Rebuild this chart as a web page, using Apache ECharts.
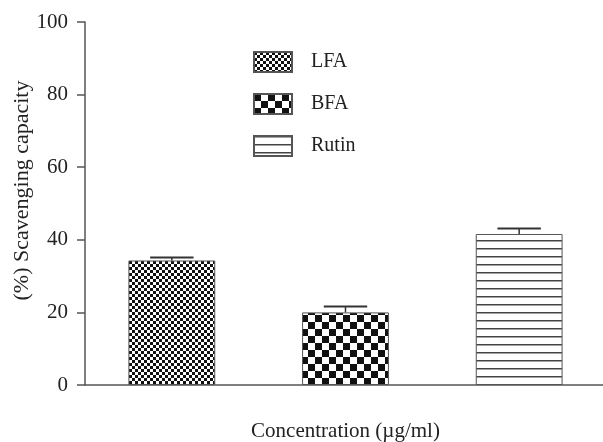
<!DOCTYPE html>
<html>
<head>
<meta charset="utf-8">
<script src="https://cdn.jsdelivr.net/npm/echarts@6/dist/echarts.min.js"></script>
<style>
  html, body { margin: 0; padding: 0; background: #fff; }
  #chart { width: 603px; height: 442px; }
</style>
</head>
<body>
<div id="chart"></div>
<script>
  var categories = ['LFA', 'BFA', 'Rutin'];
  var values = [34.3, 20.0, 41.6];
  var errors = [0.8, 1.6, 1.5];
  var yTicks = [0, 20, 40, 60, 80, 100];

  // pattern tiles
  function checker(cell) {
    var c = document.createElement('canvas');
    c.width = cell * 2; c.height = cell * 2;
    var ctx = c.getContext('2d');
    ctx.fillStyle = '#fff';
    ctx.fillRect(0, 0, c.width, c.height);
    ctx.fillStyle = '#111';
    ctx.fillRect(0, 0, cell, cell);
    ctx.fillRect(cell, cell, cell, cell);
    return c;
  }
  function hlines(gap) {
    var c = document.createElement('canvas');
    c.width = 8; c.height = gap;
    var ctx = c.getContext('2d');
    ctx.fillStyle = '#fff';
    ctx.fillRect(0, 0, c.width, c.height);
    ctx.fillStyle = '#444';
    ctx.fillRect(0, 0, c.width, 1.5);
    return c;
  }
  var patterns = [
    { image: checker(3), repeat: 'repeat' },
    { image: checker(7), repeat: 'repeat' },
    { image: hlines(8), repeat: 'repeat' }
  ];

  var chart = echarts.init(document.getElementById('chart'));
  var font = '"Liberation Serif", "Times New Roman", serif';

  var series = categories.map(function (name, i) {
    return {
      name: name,
      type: 'bar',
      barWidth: '50%',
      barGap: '-100%',
      data: categories.map(function (c, j) { return j === i ? values[i] : '-'; }),
      itemStyle: { color: patterns[i], borderColor: '#555', borderWidth: 1 },
      emphasis: { disabled: true }
    };
  });

  // error bars
  series.push({
    type: 'custom',
    silent: true,
    data: values.map(function (v, i) { return [i, v, errors[i]]; }),
    renderItem: function (params, api) {
      var x = api.value(0);
      var base = api.coord([x, api.value(1)]);
      var top = api.coord([x, api.value(1) + api.value(2)]);
      var half = api.size([1, 0])[0] * 0.125;
      return {
        type: 'group',
        children: [
          { type: 'line', shape: { x1: base[0], y1: base[1], x2: top[0], y2: top[1] }, style: { stroke: '#333', lineWidth: 1.5 } },
          { type: 'line', shape: { x1: top[0] - half, y1: top[1], x2: top[0] + half, y2: top[1] }, style: { stroke: '#333', lineWidth: 2 } }
        ]
      };
    },
    z: 5
  });

  var options = {
    animation: false,
    grid: { left: 85, top: 22, width: 521, height: 363, outerBoundsMode: 'none' },
    legend: {
      orient: 'vertical',
      left: 253,
      top: 51,
      padding: 0,
      itemWidth: 38,
      itemHeight: 20,
      itemGap: 20,
      icon: 'rect',
      data: categories,
      textStyle: { fontFamily: font, fontSize: 20, color: '#222', padding: [0, 0, 0, 14] }
    },
    xAxis: {
      type: 'category',
      data: categories,
      name: 'Concentration (\u00b5g/ml)',
      nameLocation: 'middle',
      nameGap: 36,
      nameMoveOverlap: false,
      nameTextStyle: { fontFamily: font, fontSize: 21, color: '#222' },
      axisLine: { lineStyle: { color: '#555', width: 1.5 } },
      axisTick: { alignWithLabel: true, length: 8, lineStyle: { color: '#555', width: 1.5 } },
      axisLabel: { show: false }
    },
    yAxis: {
      type: 'value',
      min: yTicks[0],
      max: yTicks[yTicks.length - 1],
      interval: 20,
      name: '(%) Scavenging capacity',
      nameLocation: 'middle',
      nameGap: 52,
      nameMoveOverlap: false,
      nameTextStyle: { fontFamily: font, fontSize: 22, color: '#222', padding: [0, 0, 0, 26] },
      axisLine: { show: true, lineStyle: { color: '#555', width: 1.5 } },
      axisTick: { show: true, length: 8, lineStyle: { color: '#555', width: 1.5 } },
      axisLabel: { fontFamily: font, fontSize: 21, color: '#222', margin: 17 },
      splitLine: { show: false }
    },
    series: series
  };
  chart.setOption(options);
</script>
</body>
</html>
